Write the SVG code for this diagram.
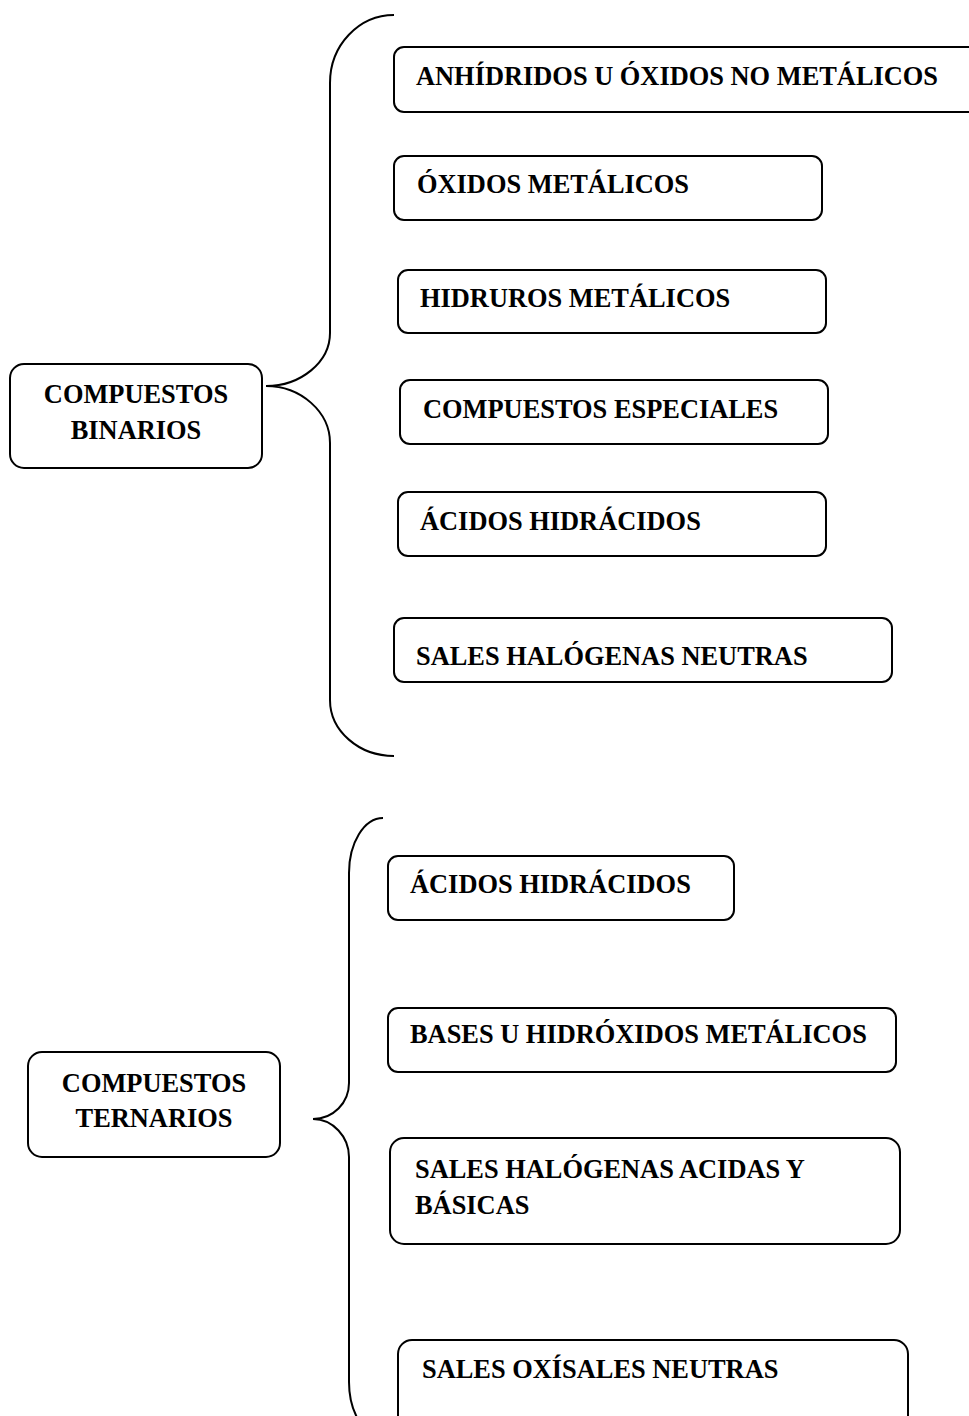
<svg xmlns="http://www.w3.org/2000/svg" width="969" height="1416" viewBox="0 0 969 1416">
<style>
.box{fill:#fff;stroke:#000;stroke-width:2}
.br{fill:none;stroke:#000;stroke-width:2}
text{font-family:"Liberation Serif","Times New Roman",serif;font-weight:bold;font-size:26.4px;fill:#000}
.c{text-anchor:middle}
</style>
<rect width="969" height="1416" fill="#fff"/>
<g id="connectors">
<path class="br" d="M394,15 C359,15 330,45 330,83 L330,333 C330,362 301,386 266,386 C301,386 330,412 330,443 L330,700 C330,731 359,756 394,756"/>
<path class="br" d="M383,818 C364,818 349,843 349,873 L349,1083 C349,1103 333,1119 313,1119 C333,1119 349,1137 349,1157 L349,1382 C349,1412 364,1437 383,1437"/>
</g>
<g id="binarios">
<rect class="box" x="10" y="364" width="252" height="104" rx="14"/>
<text class="c" x="136" y="403">COMPUESTOS</text>
<text class="c" x="136" y="439">BINARIOS</text>
</g>
<g id="anhidridos">
<rect class="box" x="394" y="47" width="600" height="65" rx="10"/>
<text x="416" y="85">ANHÍDRIDOS U ÓXIDOS NO METÁLICOS</text>
</g>
<g id="oxidos">
<rect class="box" x="394" y="156" width="428" height="64" rx="10"/>
<text x="417" y="193">ÓXIDOS METÁLICOS</text>
</g>
<g id="hidruros">
<rect class="box" x="398" y="270" width="428" height="63" rx="10"/>
<text x="420" y="307">HIDRUROS METÁLICOS</text>
</g>
<g id="especiales">
<rect class="box" x="400" y="380" width="428" height="64" rx="10"/>
<text x="423" y="418">COMPUESTOS ESPECIALES</text>
</g>
<g id="hidracidos1">
<rect class="box" x="398" y="492" width="428" height="64" rx="10"/>
<text x="420" y="530">ÁCIDOS HIDRÁCIDOS</text>
</g>
<g id="sales-neutras">
<rect class="box" x="394" y="618" width="498" height="64" rx="10"/>
<text x="416" y="665">SALES HALÓGENAS NEUTRAS</text>
</g>
<g id="ternarios">
<rect class="box" x="28" y="1052" width="252" height="105" rx="14"/>
<text class="c" x="154" y="1092">COMPUESTOS</text>
<text class="c" x="154" y="1127">TERNARIOS</text>
</g>
<g id="hidracidos2">
<rect class="box" x="388" y="856" width="346" height="64" rx="10"/>
<text x="410" y="893">ÁCIDOS HIDRÁCIDOS</text>
</g>
<g id="bases">
<rect class="box" x="388" y="1008" width="508" height="64" rx="10"/>
<text x="410" y="1043">BASES U HIDRÓXIDOS METÁLICOS</text>
</g>
<g id="sales-acidas">
<rect class="box" x="390" y="1138" width="510" height="106" rx="14"/>
<text x="415" y="1178">SALES HALÓGENAS ACIDAS Y</text>
<text x="415" y="1214">BÁSICAS</text>
</g>
<g id="oxisales">
<rect class="box" x="398" y="1340" width="510" height="100" rx="14"/>
<text x="422" y="1378">SALES OXÍSALES NEUTRAS</text>
</g>
</svg>
